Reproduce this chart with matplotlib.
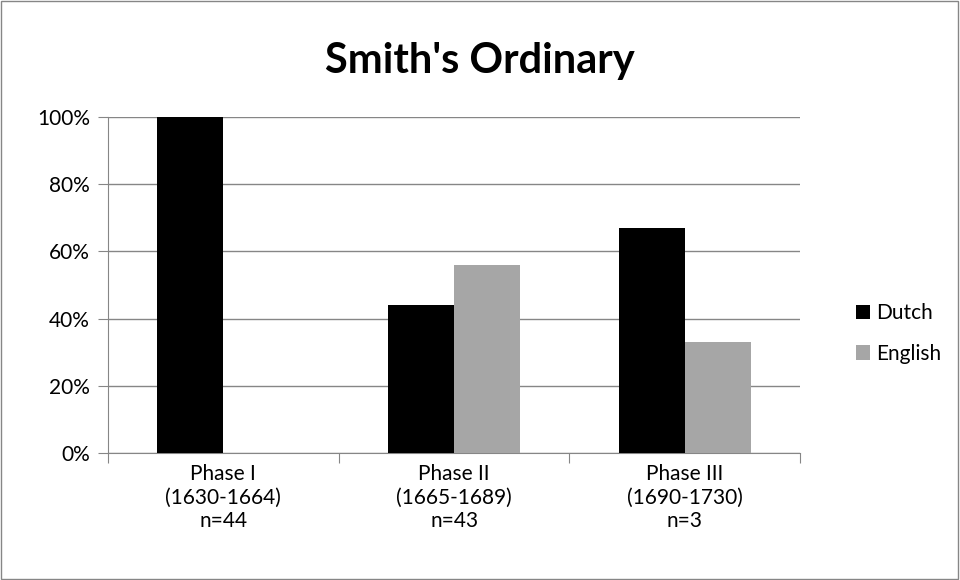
import numpy as np
import matplotlib.pyplot as plt
from matplotlib.patches import Rectangle
from matplotlib.ticker import FuncFormatter, FixedLocator

plt.rcParams['font.family'] = ['Lato', 'DejaVu Sans']

# data
categories = ['Phase I\n(1630-1664)\nn=44', 'Phase II\n(1665-1689)\nn=43', 'Phase III\n(1690-1730)\nn=3']
dutch = [1.00, 0.44, 0.67]
english = [0.00, 0.56, 0.33]

fig = plt.figure(figsize=(9.6, 5.8), dpi=100)
ax = fig.add_axes([0.1125, 0.219, 0.721, 0.579])

x = np.arange(len(categories))
w = 1 / 3.5
ax.bar(x - w / 2, dutch, w, color='black', label='Dutch', zorder=3)
ax.bar(x + w / 2, english, w, color='#a6a6a6', label='English', zorder=3)

ax.set_xlim(-0.5, 2.5)
ax.set_ylim(0, 1)
ax.set_yticks(np.arange(0, 1.01, 0.2))
ax.yaxis.set_major_formatter(FuncFormatter(lambda v, p: f'{v:.0%}'))
ax.yaxis.grid(True, color='#868686', linewidth=1, zorder=0)
ax.tick_params(axis='y', length=7, color='#868686', labelsize=15, pad=6)

ax.xaxis.set_major_locator(FixedLocator([-0.5, 0.5, 1.5, 2.5]))
ax.set_xticklabels([])
ax.xaxis.set_minor_locator(FixedLocator(x))
ax.set_xticklabels(categories, minor=True, linespacing=1.22)
ax.tick_params(axis='x', which='major', length=7, color='#868686')
ax.tick_params(axis='x', which='minor', length=0, labelsize=15, pad=8)

for s in ['top', 'right']:
    ax.spines[s].set_visible(False)
for s in ['left', 'bottom']:
    ax.spines[s].set_color('#868686')

# title centred on the whole figure, not the axes
fig.text(0.5, 0.895, "Smith's Ordinary", fontsize=30, fontweight='bold',
         ha='center', va='center')

fig.legend(loc='center left', bbox_to_anchor=(0.872, 0.425), frameon=False,
           fontsize=15, handlelength=0.7, handleheight=0.7, handletextpad=0.25,
           labelspacing=1.0)

fig.patches.append(Rectangle((0.001, 0.002), 0.997, 0.996, transform=fig.transFigure,
                             fill=False, edgecolor='#868686', linewidth=1))

fig.savefig('out.png', dpi=100)
